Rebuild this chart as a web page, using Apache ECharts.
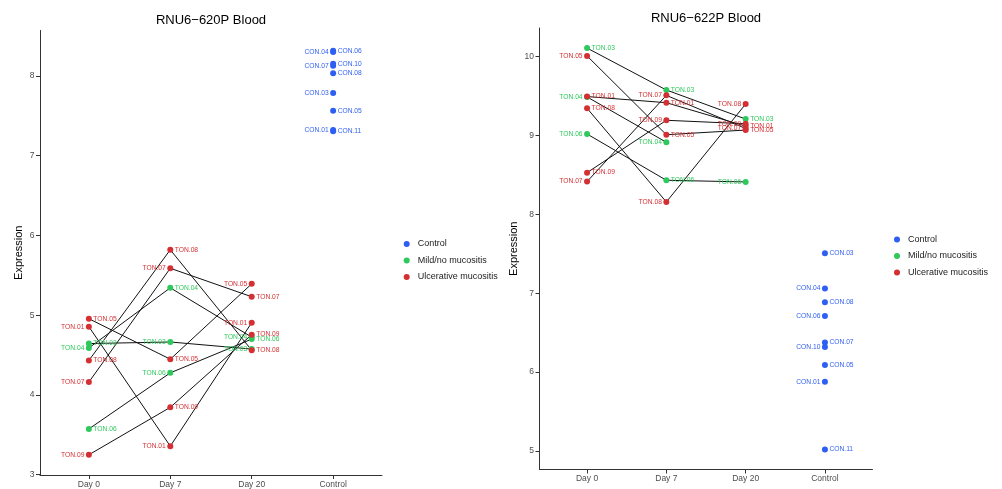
<!DOCTYPE html>
<html>
<head>
<meta charset="utf-8">
<script src="https://cdn.jsdelivr.net/npm/echarts@6/dist/echarts.min.js"></script>
<style>
html,body{margin:0;padding:0;background:#fff;}
#chart{width:1002px;height:489px;}
</style>
</head>
<body>
<div id="chart"></div>
<script>
// ---------- DATA ----------
const categories = ['Day 0', 'Day 7', 'Day 20', 'Control'];
const groups = ['Control', 'Mild/no mucositis', 'Ulcerative mucositis'];
const patients = ['TON.01', 'TON.03', 'TON.04', 'TON.05', 'TON.06', 'TON.07', 'TON.08', 'TON.09'];
const patientGroup = ['Ulcerative mucositis', 'Mild/no mucositis', 'Mild/no mucositis', 'Ulcerative mucositis',
                      'Mild/no mucositis', 'Ulcerative mucositis', 'Ulcerative mucositis', 'Ulcerative mucositis'];
const controls = ['CON.01', 'CON.03', 'CON.04', 'CON.05', 'CON.06', 'CON.07', 'CON.08', 'CON.10', 'CON.11'];
const panelTitles = ['RNU6\u2212620P Blood', 'RNU6\u2212622P Blood'];
const yTicks620 = [3, 4, 5, 6, 7, 8];
const yTicks622 = [5, 6, 7, 8, 9, 10];

// RNU6-620P (values in patient order)
const p620Day0  = [4.856, 4.644, 4.589, 4.956, 3.574, 4.161, 4.432, 3.250];
const p620Day7  = [3.358, 4.664, 5.343, 4.448, 4.277, 5.588, 5.820, 3.845];
const p620Day20 = [4.906, 4.575, 4.725, 5.393, 4.700, 5.231, 4.560, 4.756];
const p620Control = [7.320, 7.785, 8.300, 7.561, 8.315, 8.125, 8.031, 8.150, 7.305];

// RNU6-622P
const p622Day0  = [9.495, 10.110, 9.490, 10.010, 9.020, 8.416, 9.346, 8.530];
const p622Day7  = [9.417, 9.578, 8.915, 9.011, 8.433, 9.510, 8.158, 9.194];
const p622Day20 = [9.120, 9.210, null, 9.070, 8.412, 9.090, 9.400, 9.150];
const p622Control = [5.877, 7.508, 7.060, 6.089, 6.710, 6.375, 6.887, 6.317, 5.019];

// ---------- STYLE ----------
const colors = {'Control': '#2f5ff2', 'Mild/no mucositis': '#2ec95c', 'Ulcerative mucositis': '#d42f32'};
const FONT = 'Liberation Sans, Arial, sans-serif';
const firstSide = ['right', 'right', 'left', 'right']; // label side of the highest point per timepoint
const panels = [
  {title: panelTitles[0], days: [p620Day0, p620Day7, p620Day20], ctrl: p620Control, ticks: yTicks620,
   grid: {left: 40, top: 30.5, width: 342, height: 446}, legend: {left: 403.7, top: 239}, nameGap: 16, titleTop: 14},
  {title: panelTitles[1], days: [p622Day0, p622Day7, p622Day20], ctrl: p622Control, ticks: yTicks622,
   grid: {left: 539.5, top: 28, width: 333, height: 441.5}, legend: {left: 894, top: 234.5}, nameGap: 20, titleTop: 11.5}
];

function rankOrder(values) {
  const idx = values.map((v, i) => i).filter(i => values[i] != null);
  idx.sort((a, b) => values[b] - values[a]);
  return idx;
}
function other(s) { return s === 'right' ? 'left' : 'right'; }

const option = {
  animation: false,
  backgroundColor: '#fff',
  title: [], grid: [], xAxis: [], yAxis: [], legend: [], series: []
};

panels.forEach((p, pi) => {
  const all = [].concat(p.days[0], p.days[1], p.days[2], p.ctrl).filter(v => v != null);
  const lo = Math.min(...all), hi = Math.max(...all), pad = (hi - lo) * 0.05;
  const cx = p.grid.left + p.grid.width / 2;
  option.title.push({
    text: p.title, left: cx, textAlign: 'center', top: p.titleTop, padding: 0,
    textStyle: {fontFamily: FONT, fontSize: 13, fontWeight: 'normal', color: '#000'}
  });
  option.grid.push(Object.assign({containLabel: false}, p.grid));
  option.xAxis.push({
    type: 'value', gridIndex: pi, min: -0.6, max: 3.6,
    splitLine: {show: false},
    axisLine: {show: true, onZero: false, lineStyle: {color: '#333', width: 1}},
    axisTick: {show: true, length: 4, lineStyle: {color: '#333'}, customValues: [0, 1, 2, 3]},
    axisLabel: {customValues: [0, 1, 2, 3], formatter: v => categories[Math.round(v)],
      fontFamily: FONT, fontSize: 8.5, color: '#4d4d4d', margin: 5}
  });
  option.yAxis.push({
    type: 'value', gridIndex: pi, min: lo - pad, max: hi + pad,
    name: 'Expression', nameLocation: 'middle', nameGap: p.nameGap,
    nameTextStyle: {fontFamily: FONT, fontSize: 11, color: '#000'},
    splitLine: {show: false},
    axisLine: {show: true, onZero: false, lineStyle: {color: '#333', width: 1}},
    axisTick: {show: true, length: 4, lineStyle: {color: '#333'}, customValues: p.ticks},
    axisLabel: {customValues: p.ticks, fontFamily: FONT, fontSize: 8.5, color: '#4d4d4d', margin: 5.5}
  });
  option.legend.push({
    data: groups, orient: 'vertical', left: p.legend.left, top: p.legend.top, padding: 0,
    icon: 'circle', itemWidth: 6, itemHeight: 6, itemGap: 6.5,
    textStyle: {fontFamily: FONT, fontSize: 9, color: '#1a1a1a', padding: [0, 0, 0, 3], lineHeight: 10},
    selectedMode: false
  });

  // connecting lines per patient
  patients.forEach((pt, i) => {
    const pts = [];
    p.days.forEach((d, di) => { if (d[i] != null) pts.push([di, d[i]]); });
    option.series.push({
      type: 'line', name: 'line ' + pt, xAxisIndex: pi, yAxisIndex: pi, data: pts,
      symbol: 'none', silent: true, z: 2,
      lineStyle: {color: '#111', width: 1}
    });
  });

  // label side per point: alternate by rank within each timepoint
  const labelSide = {};
  p.days.forEach((d, di) => {
    rankOrder(d).forEach((i, r) => {
      labelSide[di + '_' + i] = (r % 2 === 0) ? firstSide[di] : other(firstSide[di]);
    });
  });
  const ctrlSide = {};
  rankOrder(p.ctrl).forEach((i, r) => {
    ctrlSide[i] = (r % 2 === 0) ? firstSide[3] : other(firstSide[3]);
  });

  groups.forEach((g, gi) => {
    const data = [];
    if (g === 'Control') {
      p.ctrl.forEach((v, i) => data.push({value: [3, v], name: controls[i], label: {position: ctrlSide[i]}}));
    } else {
      p.days.forEach((d, di) => {
        patients.forEach((pt, i) => {
          if (patientGroup[i] === g && d[i] != null)
            data.push({value: [di, d[i]], name: pt, label: {position: labelSide[di + '_' + i]}});
        });
      });
    }
    option.series.push({
      type: 'scatter', name: g, xAxisIndex: pi, yAxisIndex: pi, data: data,
      symbol: 'circle', symbolSize: 6, z: 3 + gi,
      itemStyle: {color: colors[g], opacity: 1},
      label: {show: true, formatter: '{b}', fontFamily: FONT, fontSize: 6.7, color: colors[g], distance: 1.5},
      emphasis: {disabled: true}
    });
  });
});

const chart = echarts.init(document.getElementById('chart'), null, {renderer: 'canvas'});
chart.setOption(option);
</script>
</body>
</html>
